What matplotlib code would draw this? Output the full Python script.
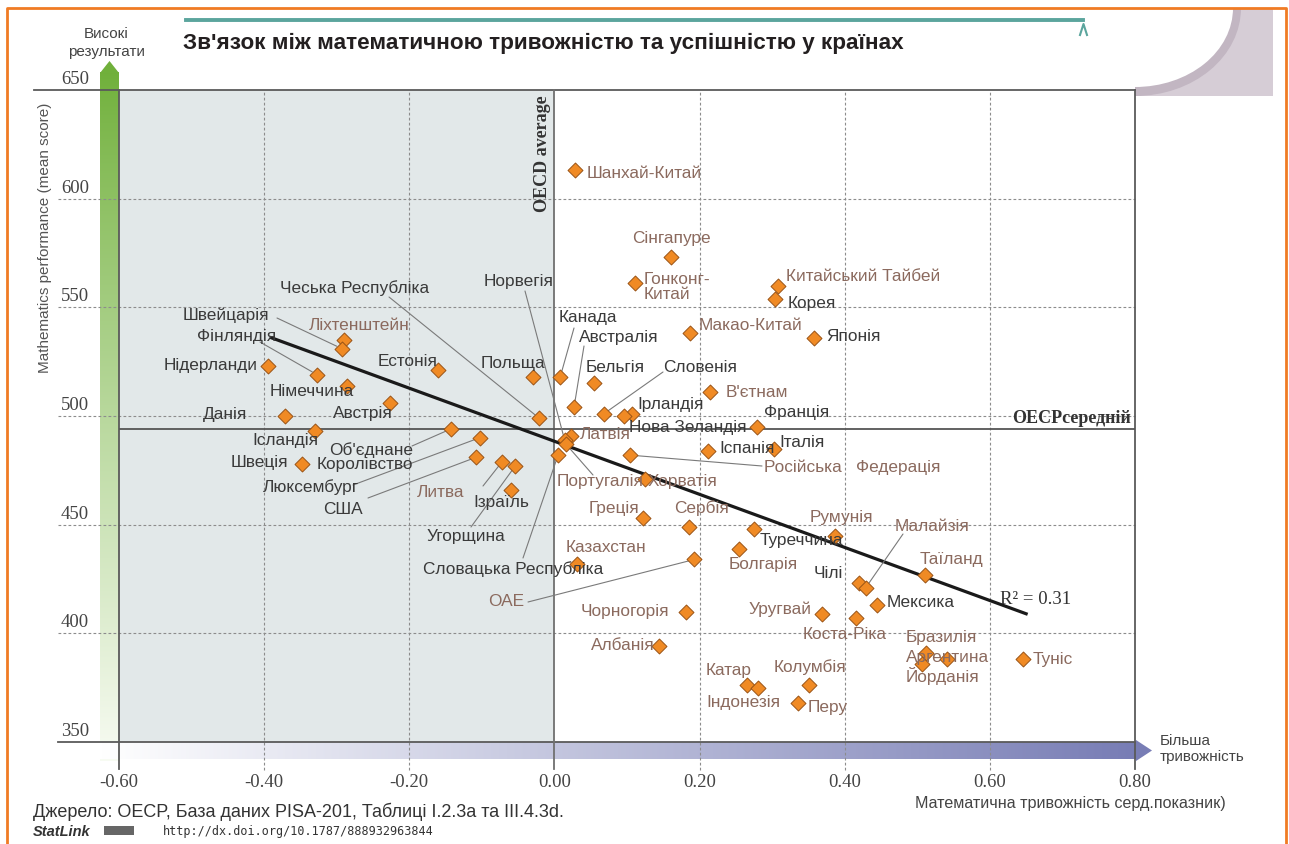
import numpy as np
import matplotlib
matplotlib.use("Agg")
import matplotlib.pyplot as plt
from matplotlib.patches import Polygon, Ellipse, Rectangle
from matplotlib.transforms import blended_transform_factory, offset_copy

plt.rcParams['font.family'] = ['Liberation Sans', 'DejaVu Sans']

W, H = 1289, 845

# --- data ---
countries = ["Шанхай-Китай", "Сінгапуре", "Гонконг-Китай", "Китайський Тайбей", "Корея",
             "Макао-Китай", "Японія", "Ліхтенштейн", "Швейцарія", "Нідерланди",
             "Естонія", "Фінляндія", "Канада", "Польща", "Бельгія", "Німеччина",
             "В'єтнам", "Австрія", "Австралія", "Ірландія", "Словенія", "Данія",
             "Нова Зеландія", "Чеська Республіка", "Франція", "Об'єднане Королівство",
             "Ісландія", "Латвія", "Люксембург", "Норвегія", "Португалія", "Італія",
             "Іспанія", "Російська Федерація", "Словацька Республіка", "США", "Литва",
             "Швеція", "Угорщина", "Хорватія", "Ізраїль", "Греція", "Сербія",
             "Туреччина", "Румунія", "Болгарія", "ОАЕ", "Казахстан", "Таїланд", "Чілі",
             "Малайзія", "Мексика", "Чорногорія", "Уругвай", "Коста-Ріка", "Албанія",
             "Бразилія", "Аргентина", "Туніс", "Йорданія", "Колумбія", "Катар",
             "Індонезія", "Перу"]
anxiety = [0.028, 0.160, 0.111, 0.308, 0.304,
           0.187, 0.358, -0.290, -0.293, -0.395,
           -0.161, -0.327, 0.008, -0.030, 0.055, -0.286,
           0.214, -0.227, 0.027, 0.107, 0.068, -0.371,
           0.096, -0.021, 0.279, -0.143,
           -0.330, 0.023, -0.103, 0.014, 0.016, 0.303,
           0.211, 0.104, 0.005, -0.108, -0.072,
           -0.348, -0.054, 0.125, -0.060, 0.122, 0.185,
           0.275, 0.387, 0.255, 0.193, 0.031, 0.510, 0.419,
           0.429, 0.445, 0.181, 0.369, 0.415, 0.144,
           0.512, 0.541, 0.646, 0.506, 0.351, 0.265,
           0.281, 0.336]
math_score = [613, 573, 561, 560, 554,
              538, 536, 535, 531, 523,
              521, 519, 518, 518, 515, 514,
              511, 506, 504, 501, 501, 500,
              500, 499, 495, 494,
              493, 491, 490, 489, 487, 485,
              484, 482, 482, 481, 479,
              478, 477, 471, 466, 453, 449,
              448, 445, 439, 434, 432, 427, 423,
              421, 413, 410, 409, 407, 394,
              391, 388, 388, 386, 376, 376,
              375, 368]
brown_labels = {"Шанхай-Китай", "Сінгапуре", "Гонконг-Китай", "Китайський Тайбей",
                "Макао-Китай", "Ліхтенштейн", "В'єтнам", "Латвія", "Португалія",
                "Російська Федерація", "Литва", "Хорватія", "Греція", "Сербія",
                "Румунія", "Болгарія", "ОАЕ", "Казахстан", "Таїланд", "Малайзія",
                "Чорногорія", "Уругвай", "Коста-Ріка", "Албанія", "Бразилія",
                "Аргентина", "Туніс", "Йорданія", "Колумбія", "Катар", "Індонезія", "Перу"}

trend_x = [-0.39, 0.65]
trend_y = [536, 409]
r2_text = "R² = 0.31"
oecd_mean_score = 494
oecd_mean_anxiety = 0.0

x_ticks = [-0.6, -0.4, -0.2, 0.0, 0.2, 0.4, 0.6, 0.8]
x_tick_labels = ["-0.60", "-0.40", "-0.20", "0.00", "0.20", "0.40", "0.60", "0.80"]
y_ticks = [350, 400, 450, 500, 550, 600, 650]

# --- label layout (figure pixels: x, y, ha, leader start) ---
display_text = {"Гонконг-Китай": "Гонконг-\nКитай",
                "Об'єднане Королівство": "Об'єднане\nКоролівство",
                "Російська Федерація": "Російська   Федерація"}
label_pos = {
    "Шанхай-Китай": (587, 173, 'left', None),
    "Сінгапуре": (671, 238, 'center', None),
    "Гонконг-Китай": (644, 287, 'left', None),
    "Китайський Тайбей": (786, 277, 'left', None),
    "Корея": (788, 304, 'left', None),
    "Макао-Китай": (699, 326, 'left', None),
    "Японія": (826, 337, 'left', None),
    "Ліхтенштейн": (309, 326, 'left', None),
    "Швейцарія": (183, 315, 'left', (277, 319)),
    "Нідерланди": (164, 366, 'left', None),
    "Естонія": (378, 362, 'left', None),
    "Фінляндія": (197, 337, 'left', (260, 343)),
    "Канада": (559, 318, 'left', (574, 329)),
    "Польща": (481, 364, 'left', None),
    "Бельгія": (586, 368, 'left', None),
    "Німеччина": (270, 392, 'left', None),
    "В'єтнам": (726, 393, 'left', None),
    "Австрія": (333, 414, 'left', None),
    "Австралія": (579, 338, 'left', (584, 347)),
    "Ірландія": (637, 405, 'left', None),
    "Словенія": (663, 368, 'left', (663, 373)),
    "Данія": (203, 415, 'left', None),
    "Нова Зеландія": (629, 428, 'left', None),
    "Чеська Республіка": (280, 288, 'left', (389, 298)),
    "Франція": (764, 413, 'left', None),
    "Об'єднане Королівство": (413, 457, 'right', (412, 447)),
    "Ісландія": (252, 441, 'left', None),
    "Латвія": (580, 435, 'left', None),
    "Люксембург": (263, 487, 'left', (353, 486)),
    "Норвегія": (484, 282, 'left', (525, 292)),
    "Португалія": (557, 482, 'left', (593, 476)),
    "Італія": (779, 443, 'left', None),
    "Іспанія": (719, 449, 'left', None),
    "Російська Федерація": (764, 467, 'left', (762, 467)),
    "Словацька Республіка": (423, 569, 'left', (523, 559)),
    "США": (323, 509, 'left', (368, 499)),
    "Литва": (417, 493, 'left', (483, 487)),
    "Швеція": (231, 463, 'left', None),
    "Угорщина": (427, 537, 'left', (471, 528)),
    "Хорватія": (648, 482, 'left', None),
    "Ізраїль": (473, 503, 'left', None),
    "Греція": (589, 508, 'left', None),
    "Сербія": (674, 508, 'left', None),
    "Туреччина": (760, 541, 'left', None),
    "Румунія": (810, 518, 'left', None),
    "Болгарія": (729, 565, 'left', None),
    "ОАЕ": (488, 602, 'left', (528, 603)),
    "Казахстан": (566, 548, 'left', None),
    "Таїланд": (920, 560, 'left', None),
    "Чілі": (814, 574, 'left', None),
    "Малайзія": (895, 527, 'left', (903, 535)),
    "Мексика": (887, 603, 'left', None),
    "Чорногорія": (581, 612, 'left', None),
    "Уругвай": (749, 609, 'left', None),
    "Коста-Ріка": (803, 635, 'left', None),
    "Албанія": (591, 646, 'left', None),
    "Бразилія": (906, 638, 'left', None),
    "Аргентина": (906, 658, 'left', None),
    "Туніс": (1033, 660, 'left', None),
    "Йорданія": (906, 676, 'left', None),
    "Колумбія": (774, 667, 'left', None),
    "Катар": (706, 671, 'left', None),
    "Індонезія": (706, 703, 'left', None),
    "Перу": (808, 708, 'left', None),
}

DARK = '#3a3a3a'
BROWN = '#8b6a5e'

fig = plt.figure(figsize=(W / 100, H / 100), dpi=100)
bg = fig.add_axes([0, 0, 1, 1], zorder=0)
bg.axis('off')

ax = fig.add_axes([119 / W, 1 - 743 / H, (1135 - 119) / W, (743 - 91) / H], zorder=1)
ax.set_facecolor('none')
ax.set_xlim(-0.6, 0.8)
ax.set_ylim(350, 650)
for s in ax.spines.values():
    s.set_visible(False)

# --- decorations in figure pixels ---
t = np.linspace(0, 1, 256) ** 0.9
green_top = np.array([0.44, 0.69, 0.23])
green_bot = np.array([0.97, 0.985, 0.95])
green = green_top * (1 - t[:, None, None]) + green_bot * t[:, None, None]
bg.imshow(green, extent=(100, 119, 762, 73), aspect='auto', interpolation='bilinear', zorder=0)
bg.add_patch(Polygon([[100, 74], [109.5, 62], [119, 74]], closed=True, fc=green_top, ec='none'))

purple_r = np.array([0.47, 0.49, 0.71])
tx = np.linspace(0, 1, 256)
purple = np.ones(3) * (1 - tx[None, :, None]) + purple_r * tx[None, :, None]
bg.imshow(purple, extent=(100, 1136, 760, 743), aspect='auto', interpolation='bilinear', zorder=0)
bg.add_patch(Polygon([[1136, 741], [1152, 751.5], [1136, 762]], closed=True, fc=purple_r, ec='none'))

curl = Rectangle((1135, 9), 138, 88, fc='#d6cdd6', ec='none', zorder=1)
bg.add_patch(curl)
shadow = Ellipse((1135, 9), 212, 176, fc='#c2b6c2', ec='none', zorder=1.1)
bg.add_patch(shadow)
shadow.set_clip_path(curl)
bg.add_patch(Ellipse((1135, 9), 196, 158, fc='white', ec='none', zorder=1.2))

bg.plot([186, 1083], [21, 21], color='#5ba59d', lw=2.8, zorder=2)
bg.plot([1080, 1083.5, 1087], [36, 25, 36], color='#5ba59d', lw=1.5, zorder=2)
bg.plot([7, 7, 1286, 1286], [845, 9, 9, 845], color='#f07b24', lw=2, zorder=3)

bg.text(183, 43, "Зв'язок між математичною тривожністю та успішністю у країнах",
        fontsize=16.2, fontweight='bold', color='#231f20', ha='left', va='center')
bg.text(106, 43, "Високі\nрезультати", fontsize=11, color='#444', ha='center',
        va='center', linespacing=1.3)
bg.text(45, 238, "Mathematics performance (mean score)", rotation=90, fontsize=11,
        color='#555', ha='center', va='center')
bg.text(1160, 749, "Більша\nтривожність", fontsize=11, color='#444', ha='left',
        va='center', linespacing=1.1)
bg.text(1070, 804, "Математична тривожність серд.показник)", fontsize=11.6, color='#444',
        ha='center', va='center')
bg.text(33, 812, "Джерело: OECP, База даних PISA-201, Таблиці I.2.3a та III.4.3d.",
        fontsize=13, color='#333', ha='left', va='center')
bg.text(33, 832, "StatLink", fontsize=10.5, fontweight='bold', fontstyle='italic',
        color='#333', ha='left', va='center')
bg.add_patch(Rectangle((104, 827), 30, 9, fc='#666', ec='none'))
bg.text(163, 832, "http://dx.doi.org/10.1787/888932963844", fontsize=8.5,
        family='DejaVu Sans Mono', color='#333', ha='left', va='center')

bg.set_xlim(0, W)
bg.set_ylim(H, 0)

# --- plot area ---
ax.axvspan(-0.6, oecd_mean_anxiety, color='#e2e8e9', zorder=0, lw=0)

grid_kw = dict(color='#8c8c8c', lw=0.8, ls=(0, (2.5, 2)), clip_on=False, zorder=1)
for v in y_ticks[1:-1]:
    ax.plot([-0.684, 0.8], [v, v], **grid_kw)
for v in x_ticks:
    if v not in (-0.6, oecd_mean_anxiety, 0.8):
        ax.plot([v, v], [337, 650], **grid_kw)

frame_kw = dict(color='#5a5a5a', lw=1.3, clip_on=False, zorder=1.5)
ax.plot([-0.717, 0.8], [650, 650], **frame_kw)
ax.plot([-0.684, 0.8], [350, 350], **frame_kw)
ax.plot([-0.6, -0.6], [337.6, 650], **frame_kw)
ax.plot([0.8, 0.8], [337.6, 650], **frame_kw)
ax.plot([oecd_mean_anxiety] * 2, [337.6, 650], color='#707070', lw=1.3, clip_on=False, zorder=1.5)
ax.plot([-0.6, 0.8], [oecd_mean_score] * 2, color='#555', lw=1.3, zorder=1.5)

ax.plot(trend_x, trend_y, color='#1a1a1a', lw=2.3, zorder=2.5)

ax.scatter(anxiety, math_score, marker='D', s=58, c='#f08a24', edgecolors='#9a5416',
           linewidths=0.7, zorder=4, clip_on=False)

for name, x, y in zip(countries, anxiety, math_score):
    lx, ly, ha, lead = label_pos[name]
    col = BROWN if name in brown_labels else DARK
    ax.annotate(display_text.get(name, name), xy=(x, y), xytext=(lx, ly),
                textcoords=bg.transData, ha=ha, va='center', fontsize=12.4, color=col,
                linespacing=0.95, zorder=5, annotation_clip=False)
    if lead is not None:
        ax.annotate('', xy=(x, y), xytext=lead, textcoords=bg.transData,
                    arrowprops=dict(arrowstyle='-', color='#7a7a7a', lw=0.8,
                                    shrinkA=0, shrinkB=4),
                    zorder=3, annotation_clip=False)

ax.text(oecd_mean_anxiety, 650, "OECD average", rotation=90, ha='right', va='top',
        fontsize=13, fontweight='bold', family='Liberation Serif', color='#333',
        transform=offset_copy(ax.transData, fig=fig, x=-3, y=-4, units='dots'))
ax.text(0.8, oecd_mean_score, "OECPсередній", ha='right', va='bottom', fontsize=13,
        fontweight='bold', family='Liberation Serif', color='#333',
        transform=offset_copy(ax.transData, fig=fig, x=-4, y=3, units='dots'))
ax.text(trend_x[1], trend_y[1], r2_text, ha='left', va='center', fontsize=13.5,
        family='Liberation Serif', color='#333',
        transform=offset_copy(ax.transData, fig=fig, x=-26, y=15, units='dots'))

ax.set_xticks(x_ticks)
ax.set_xticklabels(x_tick_labels, family='Liberation Serif', fontsize=13.5, color='#444')
ax.tick_params(axis='x', length=0, pad=22)
ax.set_yticks([])
ytrans = offset_copy(blended_transform_factory(bg.transData, ax.transData), fig=fig,
                     x=0, y=7, units='dots')
for v in y_ticks:
    ax.text(61, v, str(v), transform=ytrans, ha='left', va='baseline',
            family='Liberation Serif', fontsize=13.5, color='#444', clip_on=False)

fig.savefig('out.png', dpi=100)
